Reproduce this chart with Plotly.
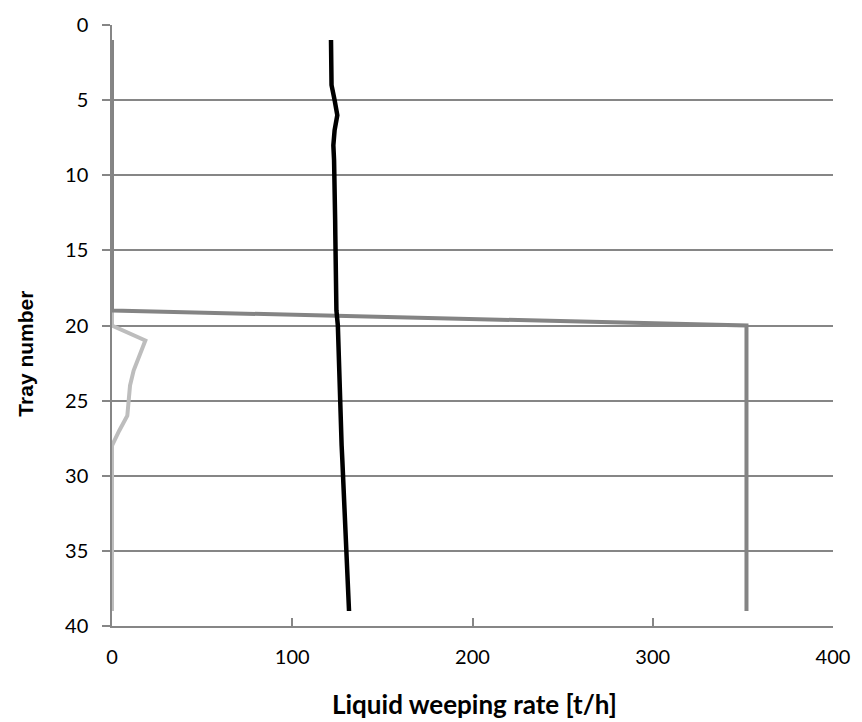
import plotly.graph_objects as go

# Tray numbers (top of column = 1)
trays = list(range(1, 40))

# Series A: nearly constant weeping across the column (black)
weep_a = [121.5, 121.6, 121.6, 121.8, 123.5, 125.0, 123.5, 122.8, 123.2, 123.5,
          123.6, 123.7, 123.8, 123.9, 124.0, 124.1, 124.2, 124.3, 124.5, 125.3,
          125.5, 125.7, 125.9, 126.1, 126.4, 126.7, 127.0, 127.4, 127.8, 128.2,
          128.6, 129.0, 129.4, 129.8, 130.2, 130.5, 130.8, 131.2, 131.5]

# Series B: weeping only in the lower section (dark grey)
weep_b = [0] * 19 + [352] * 20

# Series C: small weeping around trays 20-28 (light grey)
weep_c = [0] * 20 + [18.5, 15.0, 12.0, 10.0, 9.5, 8.5, 4.0, 0] + [0] * 11

x_ticks = [0, 100, 200, 300, 400]
y_ticks = [0, 5, 10, 15, 20, 25, 30, 35, 40]

L, R, T, B = 112, 26, 20, 96
W, H = 862, 722
plot_w = W - L - R
plot_h = H - T - B


def px_to_paper(px, py):
    return (px - L) / plot_w, (H - B - py) / plot_h


fig = go.Figure()
fig.add_trace(go.Scatter(x=weep_c, y=trays, mode="lines",
                         line=dict(color="#bdbdbd", width=4)))
fig.add_trace(go.Scatter(x=weep_b, y=trays, mode="lines",
                         line=dict(color="#848484", width=4)))
fig.add_trace(go.Scatter(x=weep_a, y=trays, mode="lines",
                         line=dict(color="#000000", width=4.5)))

tick_font = dict(family="Lato, Open Sans, sans-serif", size=20, color="#000000")

ytx, yty = px_to_paper(25, 351)
xtx, xty = px_to_paper(476, 705)

fig.update_layout(
    width=W, height=H,
    margin=dict(l=L, r=R, t=T, b=B),
    paper_bgcolor="white", plot_bgcolor="white",
    showlegend=False,
    xaxis=dict(
        range=[0, 400], tickvals=x_ticks, showgrid=False, zeroline=False,
        showline=True, linecolor="#868686", linewidth=1.5,
        ticks="inside", ticklen=8, tickcolor="#868686", tickwidth=1.5,
        tickfont=tick_font, ticklabelstandoff=12,
    ),
    yaxis=dict(
        range=[40, 0], tickvals=y_ticks, showgrid=True, gridcolor="#868686",
        gridwidth=1.5, zeroline=False,
        showline=True, linecolor="#868686", linewidth=1.5,
        ticks="outside", ticklen=8, tickcolor="#868686", tickwidth=1.5,
        tickfont=tick_font, ticklabelstandoff=10,
    ),
    annotations=[
        dict(text="<b>Tray number</b>", x=ytx, y=yty, xref="paper", yref="paper",
             xanchor="center", yanchor="middle", showarrow=False, textangle=-90,
             font=dict(family="Liberation Sans, Arial, sans-serif", size=21,
                       color="#000000")),
        dict(text="<b>Liquid weeping rate [t/h]</b>", x=xtx, y=xty,
             xref="paper", yref="paper", xanchor="center", yanchor="middle",
             showarrow=False,
             font=dict(family="Lato, Open Sans, sans-serif", size=26,
                       color="#000000")),
    ],
)

fig.write_html("out.html")
